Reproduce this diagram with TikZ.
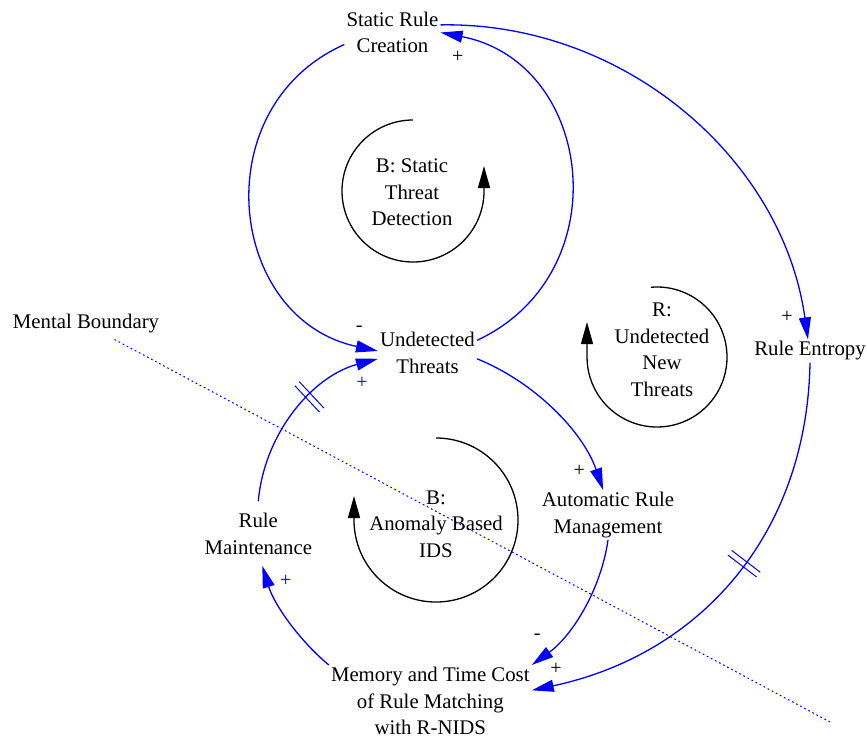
\documentclass[tikz,border=0pt]{standalone}
\usepackage{fontspec}
\setmainfont{Liberation Serif}
\usetikzlibrary{arrows.meta,decorations.markings}

\begin{document}
\begin{tikzpicture}[
    x=1pt, y=1pt,
    every node/.style={font=\fontsize{20.8}{26.5}\selectfont},
    var/.style={align=center, inner sep=2pt},
    looptxt/.style={align=center, inner sep=0pt},
    pol/.style={inner sep=0pt, font=\fontsize{20}{22}\selectfont},
    link/.style={draw=blue, line width=1.3pt,
                -{Triangle[length=22pt,width=12pt]}},
    looparrow/.style={draw=black, line width=1.3pt,
                -{Triangle[length=22pt,width=12pt]}},
    delay/.style={postaction={decorate, decoration={markings,
                mark=at position #1 with {\draw[-, blue, line width=1pt]
                (-3,-18) -- (-3,18) (3,-18) -- (3,18);}}}},
    boundary/.style={draw=blue, line width=1pt,
                dash pattern=on 1.8pt off 2.8pt}
  ]
    \useasboundingbox (0,0) rectangle (867,-740);

    % Variables
    \node[var] (creation) at (392.5,-32.5)  {Static Rule\\Creation};
    \node[var] (threats)  at (427.5,-352.7) {Undetected\\Threats};
    \node[var] (autorule) at (608,-515)     {Automatic Rule\\Management};
    \node[var] (maint)    at (258.3,-534)   {Rule\\Maintenance};
    \node[var] (memcost)  at (430.3,-701)   {Memory and Time Cost\\of Rule Matching\\with R-NIDS};
    \node[var] (entropy)  at (810,-351)     {Rule Entropy};

    % Mental boundary
    \node (bndlabel) at (86,-324) {Mental Boundary};
    \coordinate (bndstart) at (114.5,-339.5);
    \coordinate (bndend)   at (832,-723);
    \draw[boundary] (bndstart) -- (bndend);

    % Causal links
    \draw[link] (creation.194) to[out=204, in=168, distance=154pt] (threats.178);
    \draw[link] (threats.14) to[out=25, in=349, distance=157pt] (creation.east);
    \draw[link] (creation.9) to[out=1, in=98, distance=183pt] (entropy.100);
    \draw[link, delay=0.46] (entropy.south) to[out=-91, in=12, distance=172pt] (memcost.6);
    \draw[link] (threats.353) to[out=-22, in=109, distance=62pt] (autorule.101);
    \draw[link] (autorule.south) to[out=-98, in=36, distance=50pt] (memcost.north east);
    \draw[link] (memcost.north west) to[out=140, in=-73, distance=40pt] ([xshift=4pt,yshift=-9pt]maint.south);
    \draw[link, delay=0.6] ([yshift=10pt]maint.north) to[out=85, in=195, distance=68pt] (threats.187);

    % Polarities
    \node[pol] (pCreation) at (457.7,-56.7) {+};
    \node[pol] (pThrTop)   at (359.3,-329)  {-};
    \node[pol, text=blue] (pThrBot) at (362,-383.3) {+};
    \node[pol] (pAuto)     at (579.3,-470.7) {+};
    \node[pol] (pMemTop)   at (537.3,-636.7) {-};
    \node[pol] (pMemBot)   at (556,-668.7)  {+};
    \node[pol, text=blue] (pMaint) at (285.7,-581) {+};
    \node[pol] (pEntropy)  at (787,-316.7)  {+};

    % Loop symbols
    \node[looptxt] (bstatic)  at (412,-192.5) {B: Static\\Threat\\Detection};
    \node[looptxt] (rnew)     at (662,-350)   {R:\\Undetected\\New\\Threats};
    \node[looptxt] (banomaly) at (436,-524)   {B:\\Anomaly Based\\IDS};
    \draw[looparrow] (bstatic.center) ++(1,1.5) ++(90:71)
        arc[start angle=90, end angle=360, radius=71] -- ++(0,25);
    \draw[looparrow] (rnew.center) ++(-5,-7) ++(95:70)
        arc[start angle=95, end angle=-180, radius=70] -- ++(0,35);
    \draw[looparrow] (banomaly.center) ++(0,4) ++(90:82)
        arc[start angle=90, end angle=-180, radius=82] -- ++(0,24);
\end{tikzpicture}
\end{document}
